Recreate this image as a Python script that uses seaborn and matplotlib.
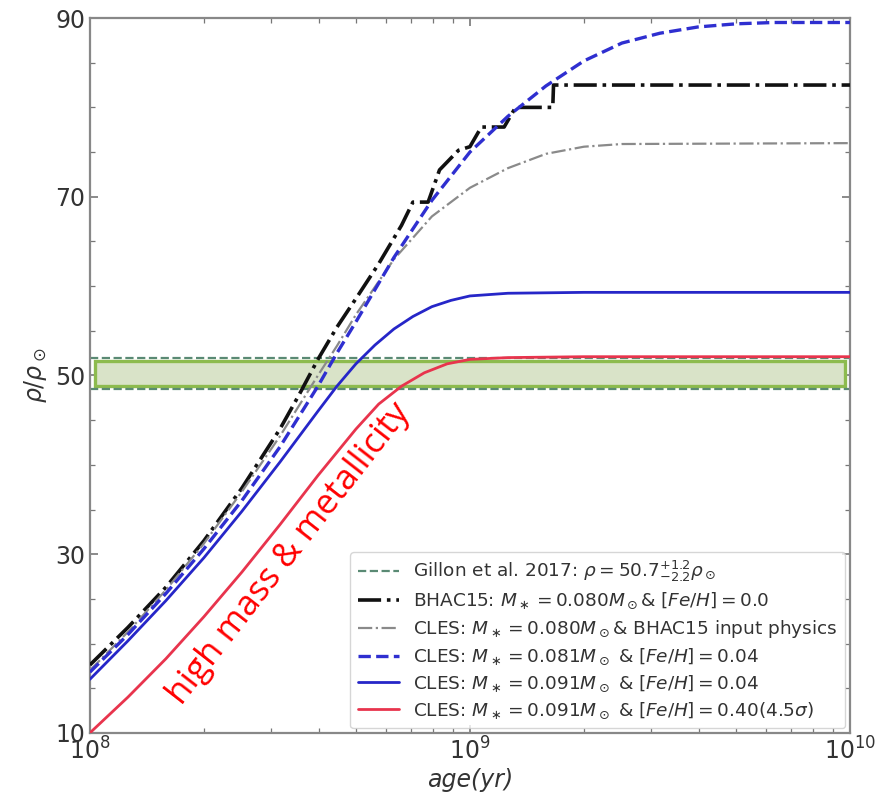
import numpy as np
import pandas as pd
import seaborn as sns
import matplotlib
matplotlib.use("Agg")
import matplotlib.pyplot as plt
from matplotlib.patches import Rectangle
from matplotlib.lines import Line2D
import matplotlib.transforms as mtransforms
from matplotlib.ticker import MultipleLocator, LogLocator, NullFormatter

# ---- data (log10 age in yr, density in solar units) ----
bhac_lg = [8.0, 8.1, 8.2, 8.3, 8.4, 8.5, 8.55, 8.6, 8.65, 8.7, 8.76, 8.82, 8.85, 8.89,
           8.92, 8.97, 9.0, 9.03, 9.09, 9.12, 9.218, 9.22, 10.0]
bhac_rho = [17.6, 21.8, 26.3, 31.5, 37.4, 44.0, 47.8, 51.8, 55.4, 58.6, 62.5, 66.8, 69.4, 69.4,
            73.0, 75.2, 75.6, 77.8, 77.8, 80.0, 80.0, 82.5, 82.5]

cles080_lg = [8.0, 8.1, 8.2, 8.3, 8.4, 8.5, 8.6, 8.65, 8.7, 8.8, 8.9, 9.0, 9.1, 9.2, 9.3, 9.4, 10.0]
cles080_rho = [17.0, 21.3, 26.0, 31.2, 37.0, 43.2, 50.0, 53.3, 56.8, 63.0, 67.8, 71.0, 73.2, 74.8, 75.6, 75.9, 76.0]

cles081_lg = [8.0, 8.1, 8.2, 8.3, 8.4, 8.5, 8.6, 8.65, 8.7, 8.8, 8.9, 9.0, 9.1, 9.2, 9.3, 9.4,
              9.5, 9.6, 9.7, 9.8, 10.0]
cles081_rho = [16.8, 21.0, 25.6, 30.6, 36.0, 42.0, 48.8, 52.5, 56.0, 63.2, 69.6, 75.0, 79.0, 82.4,
               85.2, 87.2, 88.3, 89.0, 89.35, 89.5, 89.5]

cles091_lg = [8.0, 8.1, 8.2, 8.3, 8.4, 8.5, 8.6, 8.65, 8.7, 8.75, 8.8, 8.85, 8.9, 8.95, 9.0,
              9.1, 9.3, 10.0]
cles091_rho = [16.0, 20.3, 24.8, 29.6, 34.8, 40.3, 46.0, 48.8, 51.3, 53.4, 55.2, 56.6, 57.7,
               58.4, 58.9, 59.2, 59.3, 59.3]

cles091hi_lg = [8.0, 8.1, 8.2, 8.3, 8.4, 8.5, 8.6, 8.7, 8.76, 8.82, 8.88, 8.94, 9.0, 9.1, 9.3, 10.0]
cles091hi_rho = [10.0, 14.0, 18.3, 23.0, 28.0, 33.3, 38.8, 44.0, 46.8, 48.8, 50.3, 51.3, 51.8,
                 52.0, 52.1, 52.1]

gillon_center = 50.7
gillon_up = 1.2
gillon_low = 2.2

labels = [
    r'Gillon et al. 2017: $\rho = 50.7^{+1.2}_{-2.2}\rho_\odot$',
    r'BHAC15: $M_\ast = 0.080M_\odot$& $[Fe/H] = 0.0$',
    r'CLES: $M_\ast = 0.080M_\odot$& BHAC15 input physics',
    r'CLES: $M_\ast = 0.081M_\odot$ & $[Fe/H] = 0.04$',
    r'CLES: $M_\ast = 0.091M_\odot$ & $[Fe/H] = 0.04$',
    r'CLES: $M_\ast = 0.091M_\odot$ & $[Fe/H] = 0.40(4.5\sigma)$',
]

sns.set_style("ticks")
plt.rcParams['font.family'] = ['DejaVu Sans']
plt.rcParams['mathtext.fontset'] = 'dejavusans'

fig = plt.figure(figsize=(8.9, 8.01), dpi=100)
ax = fig.add_axes([0.101, 0.085, 0.854, 0.8925])

series = [
    (bhac_lg, bhac_rho, dict(color='#111111', ls='-.', lw=2.6)),
    (cles080_lg, cles080_rho, dict(color='#8a8a8a', ls='-.', lw=1.6)),
    (cles081_lg, cles081_rho, dict(color='#2f2fd0', ls='--', lw=2.4)),
    (cles091_lg, cles091_rho, dict(color='#2626c8', ls='-', lw=2.0)),
    (cles091hi_lg, cles091hi_rho, dict(color='#e8344d', ls='-', lw=2.0)),
]

# Gillon band
g_hi = gillon_center + gillon_up
g_lo = gillon_center - gillon_low
ax.axhline(g_hi, color='#5a8a74', ls='--', lw=1.6, zorder=2)
ax.axhline(g_lo, color='#5a8a74', ls='--', lw=1.6, zorder=2)
trans = mtransforms.blended_transform_factory(ax.transAxes, ax.transData)
ax.add_patch(Rectangle((0.007, g_lo + 0.3), 0.986, (g_hi - g_lo) - 0.6, transform=trans,
                       facecolor='#d9e3c8', edgecolor='#8dbb4e', lw=2.4, zorder=1))

for (lg, rho, st) in series:
    df = pd.DataFrame({'age': np.power(10.0, lg), 'rho': rho})
    sns.lineplot(data=df, x='age', y='rho', ax=ax, sort=False, estimator=None, zorder=3, **st)

ax.set_xscale('log')
ax.set_xlim(1e8, 1e10)
ax.set_ylim(10, 90)
ax.set_yticks([10, 30, 50, 70, 90])
ax.yaxis.set_minor_locator(MultipleLocator(5))
ax.xaxis.set_major_locator(LogLocator(base=10, numticks=5))
ax.xaxis.set_minor_locator(LogLocator(base=10, subs=np.arange(2, 10), numticks=20))
ax.xaxis.set_minor_formatter(NullFormatter())
ax.tick_params(which='both', direction='in', top=True, right=True, colors='#777777',
               labelcolor='#333333')
ax.tick_params(which='major', length=6, width=1.2, labelsize=17)
ax.tick_params(which='minor', length=3.5, width=0.9)
for s in ax.spines.values():
    s.set_color('#888888')
    s.set_linewidth(1.6)

ax.set_xlabel('age(yr)', fontsize=17, style='italic', color='#333333', labelpad=2)
ax.set_ylabel(r'$\rho/\rho_\odot$', fontsize=17, color='#333333', labelpad=4)

handles = [Line2D([], [], color='#5a8a74', ls='--', lw=1.6)]
handles += [Line2D([], [], **st) for (_, _, st) in series]
leg = ax.legend(handles, labels, loc='lower right', fontsize=13.3, frameon=True,
                handlelength=2.2, borderaxespad=0.25, labelspacing=0.36)
leg.get_frame().set_edgecolor('#cccccc')
for t in leg.get_texts():
    t.set_color('#333333')

ax.text(0.262, 0.25, 'high mass & metallicity', transform=ax.transAxes, color='#ff0000',
        fontsize=25, rotation=52, ha='center', va='center', rotation_mode='anchor',
        family=['Open Sans', 'DejaVu Sans'])

fig.savefig('out.png', dpi=100)
